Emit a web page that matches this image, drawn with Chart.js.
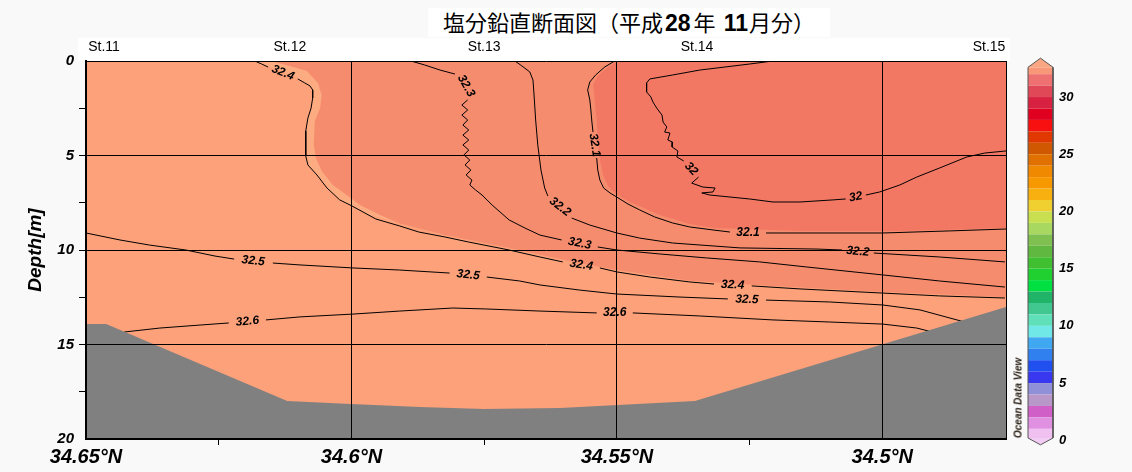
<!DOCTYPE html>
<html><head><meta charset="utf-8">
<script src="https://cdn.jsdelivr.net/npm/chart.js@4.4.1/dist/chart.umd.min.js"></script>
<style>
html,body{margin:0;padding:0;background:#f9f9f9;width:1132px;height:472px;overflow:hidden;}
#main{position:absolute;left:0;top:0;}
#cbar{position:absolute;left:1000px;top:0;}
#strip{position:absolute;left:78px;top:38px;width:932px;height:23px;background:#fff;}
#tbox{position:absolute;left:428px;top:8px;width:402px;height:29px;background:#fff;}
#ttl{position:absolute;left:443px;top:6px;height:30px;line-height:30px;font-family:"Noto Sans CJK JP";font-size:22px;color:#000;white-space:nowrap;}
#ttl .n{font-family:"Liberation Sans",Arial,sans-serif;font-weight:bold;font-size:23px;}
#odv{position:absolute;left:1018px;top:398px;transform:translate(-50%,-50%) rotate(-90deg);font:italic bold 10px "Liberation Sans",Arial,sans-serif;color:#2a2016;white-space:nowrap;}
</style></head><body>
<div id="strip"></div><div id="tbox"></div>
<div id="ttl">塩分鉛直断面図（平成<span class="n" style="margin:0 3px 0 2px">28</span>年<span class="n" style="margin:0 1px 0 8px">11</span>月分）</div>
<canvas id="main" width="1132" height="472"></canvas>
<canvas id="cbar" width="132" height="472"></canvas>
<div id="odv">Ocean Data View</div>
<script>
// ---------- axes / categories ----------
const stationNames = ['St.11','St.12','St.13','St.14','St.15'];
const stationLats  = [34.6466, 34.6116, 34.5750, 34.5349, 34.4799];
const latMin = 34.4767, latMax = 34.65;
const depthMin = 0, depthMax = 20;
const xTickVals   = [34.65, 34.625, 34.6, 34.575, 34.55, 34.525, 34.5];
const xTickLabels = ['34.65°N','','34.6°N','','34.55°N','','34.5°N'];
const yTickVals   = [0, 2.5, 5, 7.5, 10, 12.5, 15, 17.5, 20];
const yTickLabels = ['0','','5','','10','','15','','20'];

// ---------- salinity contours [lat, depth]; null = gap for a label ----------
const contour320 = [
 [34.5206,0],[34.5250,0.16],[34.5344,0.48],[34.5395,0.74],[34.5438,0.95],[34.5444,1.16],[34.5444,1.64],[34.5436,1.90],[34.5432,2.17],[34.5425,2.49],[34.5415,2.86],[34.5413,3.23],[34.5406,3.49],[34.5410,3.76],[34.5400,3.81],[34.5404,4.18],[34.5395,4.29],[34.5396,4.55],[34.5385,4.76],[34.5387,5.08],[34.5374,5.29],
 null,
 [34.5346,6.14],[34.5359,6.46],[34.5338,6.67],[34.5315,6.72],[34.5319,6.93],[34.5340,6.98],[34.5325,7.09],[34.5250,7.30],[34.5206,7.46],[34.5155,7.46],[34.5093,7.35],[34.5069,7.30],
 null,
 [34.5031,7.09],[34.5005,6.93],[34.4967,6.56],[34.4935,6.14],[34.4892,5.66],[34.4841,5.08],[34.4807,4.87],[34.4767,4.76]
];
const contour321 = [
 [34.5504,0],[34.5523,0.32],[34.5540,0.74],[34.5551,1.11],[34.5555,1.53],[34.5551,2.06],[34.5549,2.59],[34.5547,3.23],[34.5545,3.76],
 null,
 [34.5538,5.13],[34.5536,5.77],[34.5532,6.30],[34.5525,6.72],[34.5513,6.98],[34.5500,7.20],[34.5479,7.57],[34.5457,7.88],[34.5429,8.25],[34.5395,8.57],[34.5363,8.78],[34.5319,8.94],[34.5287,9.05],
 null,
 [34.5219,9.10],[34.5155,9.10],[34.4999,9.10],[34.4873,8.99],[34.4767,8.89]
];
const contour322 = [
 [34.5692,0],[34.5679,0.26],[34.5664,0.58],[34.5658,1.01],[34.5656,1.80],[34.5653,3.12],[34.5649,4.44],[34.5643,5.77],[34.5636,6.72],[34.5630,7.14],
 null,
 [34.5585,8.31],[34.5551,8.68],[34.5500,9.10],[34.5457,9.37],[34.5395,9.63],[34.5268,9.89],[34.5123,9.95],[34.5076,10.0],
 null,
 [34.5016,10.16],[34.4892,10.37],[34.4769,10.63]
];
const contour323 = [
 [34.5888,0],[34.5862,0.21],[34.5833,0.48],[34.5805,0.69],
 null,
 [34.5781,2.06],[34.5792,2.33],[34.5781,2.59],[34.5792,2.86],[34.5781,3.12],[34.5790,3.39],[34.5779,3.65],[34.5790,3.92],[34.5779,4.18],[34.5790,4.44],[34.5779,4.71],[34.5788,4.97],[34.5777,5.24],[34.5786,5.50],[34.5775,5.77],[34.5784,6.03],[34.5773,6.30],[34.5777,6.56],[34.5766,6.83],[34.5754,7.09],[34.5735,7.62],[34.5720,7.99],[34.5703,8.41],[34.5673,8.84],[34.5645,9.21],[34.5604,9.47],
 null,
 [34.5536,9.84],[34.5500,10.0],[34.5419,10.21],[34.5331,10.42],[34.5231,10.63],[34.5142,10.90],[34.4999,11.32],[34.4892,11.64],[34.4769,11.96]
];
const contour324 = [
 [34.6182,0],[34.6169,0.16],[34.6157,0.32],
 null,
 [34.6101,0.95],[34.6088,1.16],[34.6078,1.32],[34.6073,1.53],[34.6073,1.96],[34.6076,2.49],[34.6082,3.02],[34.6086,3.70],[34.6086,5.03],[34.6082,5.50],[34.6065,6.03],[34.6046,6.72],[34.6022,7.35],[34.5999,7.67],[34.5954,8.36],[34.5909,8.73],[34.5873,9.05],[34.5824,9.31],[34.5779,9.58],[34.5703,10.0],[34.5645,10.37],[34.5602,10.63],
 null,
 [34.5532,10.95],[34.5500,11.16],[34.5438,11.43],[34.5363,11.69],[34.5317,11.80],
 null,
 [34.5246,11.90],[34.5155,12.06],[34.4999,12.28],[34.4892,12.43],[34.4769,12.54]
];
const contour325 = [
 [34.6500,9.10],[34.6436,9.47],[34.6380,9.74],[34.6312,10.0],[34.6257,10.32],[34.6221,10.48],
 null,
 [34.6148,10.69],[34.6097,10.79],[34.5997,10.95],[34.5909,11.06],[34.5815,11.22],
 null,
 [34.5745,11.43],[34.5683,11.64],[34.5645,11.85],[34.5570,12.12],[34.5500,12.33],[34.5381,12.49],[34.5291,12.59],
 null,
 [34.5219,12.65],[34.5099,12.75],[34.4999,12.91],[34.4929,13.17],[34.4845,13.81]
];
const contour326 = [
 [34.6428,14.34],[34.6361,14.13],[34.6285,13.97],[34.6231,13.86],
 null,
 [34.6161,13.70],[34.6097,13.54],[34.5997,13.39],[34.5909,13.23],[34.5809,13.07],[34.5747,13.12],[34.5645,13.23],[34.5538,13.33],
 null,
 [34.5470,13.33],[34.5344,13.49],[34.5206,13.70],[34.5099,13.81],[34.4999,13.92],[34.4935,14.13],[34.4892,14.44]
];

// ---------- colour zones (boundary curves, filled up to the surface) ----------
const zoneHigh   = [[34.65,20],[34.4767,20]];
const zoneSliver = [[34.6182,0],[34.6169,0.16],[34.6153,0.32],[34.6125,0.63],[34.6097,0.95],[34.6078,1.27],[34.6073,1.53],[34.6074,2.33],[34.6082,3.02],[34.6086,3.70],[34.6086,5.03],[34.6082,5.50],[34.6065,6.03],[34.6046,6.72],[34.6022,7.35],[34.5999,7.67],[34.5965,8.15],[34.5909,8.60],[34.5824,9.20],[34.5703,9.90],[34.5570,10.70],[34.5500,11.06],[34.5363,11.63],[34.5250,11.84],[34.4999,12.22],[34.4767,12.50]];
const zoneMid    = [[34.6153,0],[34.6116,0.26],[34.6084,0.53],[34.6063,1.16],[34.6056,1.80],[34.6059,2.49],[34.6069,3.17],[34.6071,4.44],[34.6067,5.13],[34.6056,5.82],[34.6035,6.56],[34.6009,7.09],[34.5984,7.62],[34.5946,8.15],[34.5909,8.60],[34.5824,9.20],[34.5703,9.90],[34.5570,10.70],[34.5500,11.06],[34.5363,11.63],[34.5250,11.84],[34.4999,12.22],[34.4767,12.50]];
const zoneLow    = [[34.5545,0],[34.5500,0],[34.5519,0.37],[34.5536,0.79],[34.5545,1.27],[34.5543,1.64],[34.5542,2.06],[34.5538,3.12],[34.5536,4.18],[34.5532,5.24],[34.5526,6.03],[34.5517,6.61],[34.5504,6.98],[34.5476,7.46],[34.5419,8.15],[34.5363,8.62],[34.5319,8.84],[34.5155,8.99],[34.4967,8.99],[34.4767,8.84]];
const seabed     = [[34.65,13.92],[34.6462,13.92],[34.6121,17.99],[34.6001,18.15],[34.5871,18.31],[34.5750,18.41],[34.5607,18.36],[34.5353,17.99],[34.4767,13.02]];

// ---------- contour labels ----------
const contourLabels = [
 {text:'32.4', lat:34.6129, depth:0.63, rot:22},
 {text:'32.3', lat:34.5784, depth:1.32, rot:60},
 {text:'32.2', lat:34.5607, depth:7.72, rot:38},
 {text:'32.1', lat:34.5542, depth:4.44, rot:81},
 {text:'32',   lat:34.5360, depth:5.71, rot:45},
 {text:'32.1', lat:34.5253, depth:9.07, rot:0},
 {text:'32',   lat:34.5050, depth:7.20, rot:-10},
 {text:'32.2', lat:34.5046, depth:10.08, rot:5},
 {text:'32.3', lat:34.5570, depth:9.66, rot:11},
 {text:'32.4', lat:34.5567, depth:10.79, rot:9},
 {text:'32.4', lat:34.5282, depth:11.85, rot:3},
 {text:'32.5', lat:34.6185, depth:10.58, rot:6},
 {text:'32.5', lat:34.5780, depth:11.32, rot:6},
 {text:'32.5', lat:34.5255, depth:12.62, rot:2},
 {text:'32.6', lat:34.6196, depth:13.78, rot:-5},
 {text:'32.6', lat:34.5504, depth:13.33, rot:0}
];

// ---------- colour bar ----------
const cbEdges  = [0.2,1,2,3,4,5,6,7,8,9,10,11,12,13,14,15,16,17,18,19,20,21,22,23,24,25,26,27,28,29,30,31,32,32.6];
const cbColors = ['#F0C0F0','#E090E0','#D060C8','#B898C8','#9090D8','#3838F0','#2050F0','#3080F0','#40A8F0','#70E8E8',
                  '#60E0B8','#40C890','#20B468','#00E040','#20D030','#40C030','#60B840','#80C050','#A8D860','#C8E050',
                  '#F0D030','#F8B010','#F89800','#F08800','#E07000','#D05800','#E03800','#F81010','#E00020','#D82040',
                  '#E04858','#EE7070','#F89878'];
const cbTipTop = 33.4, cbTipBottom = -0.4;
const cbTicks = [0,5,10,15,20,25,30];
const cbTickLabels = ['0','5','10','15','20','25','30'];

const colHigh='#FCA17A', colSliver='#FDAB81', colMid='#F68C6E', colLow='#F37864', colSeabed='#808080';

Chart.defaults.font.family = '"Liberation Sans", Arial, sans-serif';
Chart.defaults.color = '#000';
const NONE = 'rgba(0,0,0,0)';

const pts = arr => arr.map((p, i) => p ? {x:p[0], y:p[1]} : {x:arr[i-1][0], y:null});
const regionDs = (arr, color, order, base) => ({type:'line', data:pts(arr), backgroundColor:color, borderColor:NONE, borderWidth:0,
  fill:{value:base}, pointRadius:0, pointHoverRadius:0, tension:0, order});
const lineDs = arr => ({type:'line', data:pts(arr), borderColor:'#000', borderWidth:1, fill:false, pointRadius:0, pointHoverRadius:0, tension:0, spanGaps:false, order:2});

const contours = [contour320, contour321, contour322, contour323, contour324, contour325, contour326];

const labelPlugin = {
  id:'contourLabels',
  afterDatasetsDraw(chart){
    const {ctx, scales:{x, y}} = chart;
    ctx.save();
    ctx.font = 'italic bold 12px "Liberation Sans", Arial, sans-serif';
    ctx.fillStyle = '#000'; ctx.textAlign = 'center'; ctx.textBaseline = 'middle';
    for (const l of contourLabels) {
      ctx.save();
      ctx.translate(x.getPixelForValue(l.lat), y.getPixelForValue(l.depth));
      ctx.rotate(l.rot * Math.PI / 180);
      ctx.fillText(l.text, 0, 0);
      ctx.restore();
    }
    ctx.restore();
  }
};

new Chart(document.getElementById('main'), {
  type:'line',
  data:{datasets:[
    regionDs(zoneHigh, colHigh, 6, depthMin),
    regionDs(zoneSliver, colSliver, 5, depthMin),
    regionDs(zoneMid, colMid, 4, depthMin),
    regionDs(zoneLow, colLow, 3, depthMin),
    ...contours.map(lineDs),
    regionDs(seabed, colSeabed, 1, depthMax)
  ]},
  options:{
    responsive:false, animation:false, devicePixelRatio:1, events:[],
    layout:{padding:{left:0, right:126, top:38, bottom:0}},
    plugins:{legend:{display:false}, tooltip:{enabled:false}},
    scales:{
      x:{type:'linear', position:'bottom', reverse:true, min:latMin, max:latMax,
        afterBuildTicks:s=>{s.ticks = xTickVals.map(v=>({value:v}));},
        afterFit:s=>{s.height = 33;},
        ticks:{autoSkip:false, maxRotation:0, minRotation:0, padding:0, color:'#000', z:1,
          font:{size:20, style:'italic', weight:'bold'}, callback:(v,i)=>xTickLabels[i]},
        grid:{z:1, color:c=>(xTickLabels[c.index] && c.index>0) ? '#000' : NONE,
          tickColor:c=>xTickLabels[c.index] ? NONE : '#000', tickLength:6, lineWidth:1},
        border:{color:'#000', width:2, z:2}},
      x2:{type:'linear', position:'top', reverse:true, min:latMin, max:latMax,
        afterBuildTicks:s=>{s.ticks = stationLats.map(v=>({value:v}));},
        afterFit:s=>{s.height = 23;},
        ticks:{autoSkip:false, maxRotation:0, minRotation:0, padding:5, color:'#000', font:{size:14}, z:1,
          callback:(v,i)=>stationNames[i]},
        grid:{display:false, drawTicks:false},
        border:{color:'#000', width:1, z:2}},
      y:{type:'linear', position:'left', reverse:true, min:depthMin, max:depthMax,
        afterBuildTicks:s=>{s.ticks = yTickVals.map(v=>({value:v}));},
        afterFit:s=>{s.width = 86;},
        ticks:{autoSkip:false, padding:5, color:'#000', z:1, font:{size:15, style:'italic', weight:'bold'},
          callback:(v,i)=>yTickLabels[i]},
        grid:{z:1, color:c=>(yTickLabels[c.index] && c.index>0 && c.index<yTickVals.length-1) ? '#000' : NONE,
          tickColor:c=>(c.index>0 && c.index<yTickVals.length-1) ? '#000' : NONE, tickLength:7, lineWidth:1},
        border:{color:'#000', width:2, z:2},
        title:{display:true, text:'Depth[m]', color:'#000', font:{size:19, style:'italic', weight:'bold'}, padding:{top:24, bottom:0}}},
      y2:{type:'linear', position:'right', min:depthMin, max:depthMax,
        afterFit:s=>{s.width = 0;},
        ticks:{display:false}, grid:{display:false, drawTicks:false},
        border:{color:'#000', width:1, z:2}}
    }
  },
  plugins:[labelPlugin]
});

// colour bar
const bandSets = cbColors.map((c, i) => ({type:'line',
  data:[{x:0, y:cbEdges[i+1]}, {x:1, y:cbEdges[i+1]}],
  backgroundColor:c, borderColor:NONE, borderWidth:0, fill:{value:cbEdges[i]}, pointRadius:0, tension:0, order:3}));
const bodyTop = cbEdges[cbEdges.length-1], bodyBottom = cbEdges[0];
new Chart(document.getElementById('cbar'), {
  type:'line',
  data:{datasets:[
    ...bandSets,
    {type:'line', data:[{x:0,y:bodyTop},{x:0.5,y:cbTipTop},{x:1,y:bodyTop}], backgroundColor:'#FBA682', borderColor:NONE, borderWidth:0, fill:{value:bodyTop}, pointRadius:0, tension:0, order:2},
    {type:'line', data:[{x:0,y:bodyBottom},{x:0.5,y:cbTipBottom},{x:1,y:bodyBottom}], backgroundColor:'#F2CCF2', borderColor:NONE, borderWidth:0, fill:{value:bodyBottom}, pointRadius:0, tension:0, order:2},
    {type:'line', data:[{x:0,y:bodyBottom},{x:0,y:bodyTop},{x:0.5,y:cbTipTop},{x:1,y:bodyTop},{x:1,y:bodyBottom},{x:0.5,y:cbTipBottom},{x:0,y:bodyBottom}],
      borderColor:'#555', borderWidth:1, fill:false, pointRadius:0, tension:0, order:0, clip:false}
  ]},
  options:{
    responsive:false, animation:false, devicePixelRatio:1, events:[],
    layout:{padding:{left:28, right:0, top:57, bottom:26}},
    plugins:{legend:{display:false}, tooltip:{enabled:false}},
    scales:{
      x:{type:'linear', min:0, max:1, display:false},
      y:{type:'linear', position:'right', min:-0.5, max:33.5,
        afterBuildTicks:s=>{s.ticks = cbTicks.map(v=>({value:v}));},
        afterFit:s=>{s.width = 79;},
        ticks:{autoSkip:false, padding:6, color:'#000', font:{size:13, style:'italic', weight:'bold'},
          callback:(v,i)=>cbTickLabels[i]},
        grid:{display:false, drawTicks:false}, border:{display:false}}
    }
  }
});
</script>
</body></html>
